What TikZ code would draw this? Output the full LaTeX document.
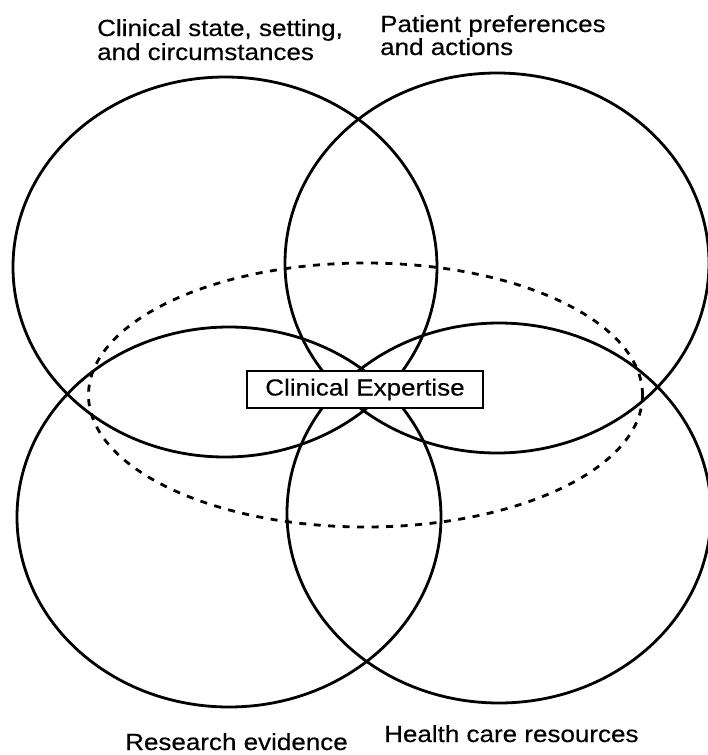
\documentclass[tikz,border=0pt]{standalone}
\usepackage{fontspec}
\setmainfont{Liberation Sans}
\newfontfamily\labelfont[FakeBold=0.35]{Liberation Sans}
\usepackage{graphicx}
\usetikzlibrary{shapes.geometric}
% text is set slightly wider than the font's natural width
\newcommand\widetext[1]{\scalebox{1.116}[1]{#1}}
\begin{document}
\begin{tikzpicture}[x=1pt,y=-1pt,
  ring/.style={draw=black, line width=2.8pt, ellipse, minimum width=424pt,
    minimum height=380pt, inner sep=0pt},
  core/.style={draw=black, line width=2.8pt, dash pattern=on 7pt off 7.5pt,
    ellipse, minimum width=554pt, minimum height=264pt, inner sep=0pt},
  caption/.style={font=\labelfont\fontsize{23.3}{27}\selectfont, inner sep=0pt,
    anchor=base west},
  tag/.style={draw=black, line width=1.7pt, fill=white, minimum width=236pt,
    minimum height=37pt, inner sep=0pt,
    font=\labelfont\fontsize{23.3}{27}\selectfont}]
\fill[white] (0,0) rectangle (707,755);
\useasboundingbox (0,0) rectangle (707,755);

% the four overlapping domains
\node[ring] (state)     at (225,267) {};
\node[ring] (patient)   at (497,263) {};
\node[ring] (evidence)  at (229,517) {};
\node[ring] (resource)  at (499,513) {};

% clinical expertise spanning all four
\node[core] (expert) at (365.5,395) {};
\node[tag] (expertise) at (365,389.5) {\widetext{Clinical Expertise}};

% domain captions
\node[caption] (stateA)    at (97,36)   {\widetext{Clinical state, setting,}};
\node[caption] (stateB)    at (97,60)   {\widetext{and circumstances}};
\node[caption] (prefA)     at (380,32)  {\widetext{Patient preferences}};
\node[caption] (prefB)     at (380,55)  {\widetext{and actions}};
\node[caption] (research)  at (125,750) {\widetext{Research evidence}};
\node[caption] (resources) at (384,742) {\widetext{Health care resources}};
\end{tikzpicture}
\end{document}
